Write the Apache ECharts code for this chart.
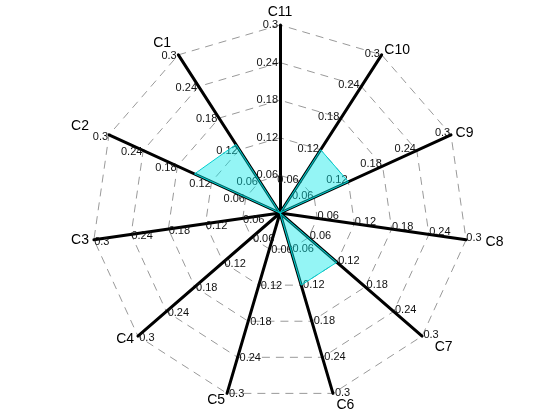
<!DOCTYPE html>
<html>
<head>
<meta charset="utf-8">
<script src="https://cdn.jsdelivr.net/npm/echarts@6/dist/echarts.min.js"></script>
<style>html,body{margin:0;padding:0;background:#fff}#c{width:560px;height:420px}</style>
</head>
<body>
<div id="c"></div>
<script>
const categories = ['C11','C1','C2','C3','C4','C5','C6','C7','C8','C9','C10'];
const values = [0, 0.13, 0.15, 0, 0, 0, 0.12, 0.12, 0, 0.12, 0.12];
const axisMax = 0.3;
const tickCount = 5;

const chart = echarts.init(document.getElementById('c'));
chart.setOption({
  animation: false,
  radar: {
    center: [280, 213],
    radius: 188,
    startAngle: 90,
    shape: 'polygon',
    splitNumber: tickCount,
    indicator: categories.map(c => ({ name: c, min: 0, max: axisMax })),
    axisName: { color: '#000', fontSize: 14, fontFamily: 'Liberation Sans' },
    nameGap: 5,
    axisLine: { lineStyle: { color: '#000', width: 3 } },
    splitLine: { lineStyle: { color: '#999', type: [8, 6], width: 1 } },
    splitArea: { show: false },
    axisTick: { show: false },
    axisLabel: {
      show: true, color: '#111', fontSize: 11, fontFamily: 'Liberation Sans', margin: 2,
      formatter: v => v === 0 ? '' : String(+v.toFixed(2))
    }
  },
  series: [{
    type: 'radar',
    symbol: 'none',
    lineStyle: { color: 'rgb(0,200,200)', width: 1 },
    areaStyle: { color: 'rgba(0,232,232,0.6)' },
    data: [{ value: values }]
  }]
});
</script>
</body>
</html>
